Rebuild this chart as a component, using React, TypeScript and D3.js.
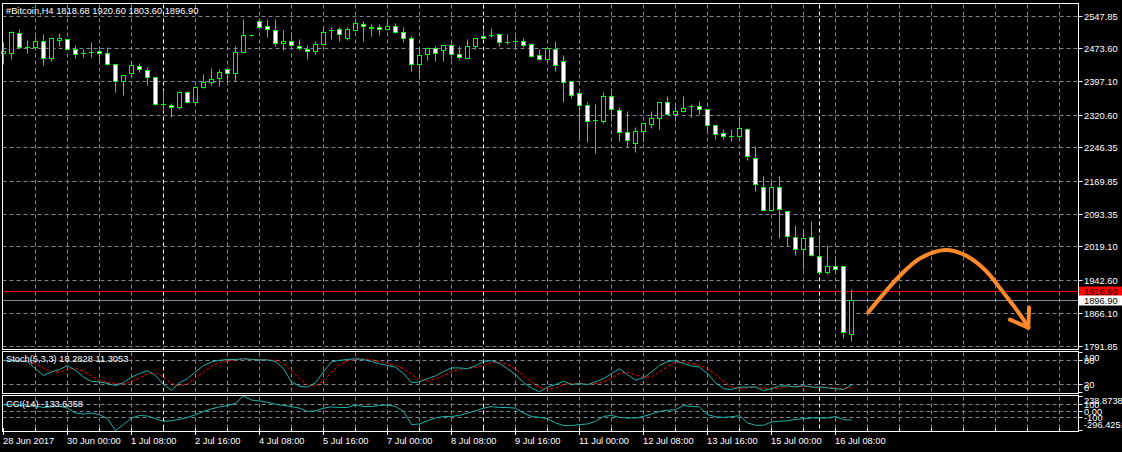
import { useEffect, useRef } from "react";
import * as d3 from "d3";

// H4 candles, bar 0 = 28 Jun 16:00
const opens = [
  2461.6, 2462.3, 2508.1, 2476.5, 2475.3, 2489.8, 2450.1, 2492.1, 2494.4, 2470.7,
  2462.3, 2463.9, 2466.1, 2462.3, 2437.1, 2398.2, 2415.7, 2432.5, 2423.4, 2407.3,
  2344.7, 2343.2, 2337.1, 2373.7, 2350.8, 2383.7, 2395.1, 2404.3, 2424.9, 2415.7,
  2463.9, 2503.6, 2535.6, 2524.9, 2515.0, 2485.2, 2489.1, 2478.4, 2471.5, 2466.1,
  2483.0, 2514.2, 2515.8, 2495.9, 2514.2, 2528.8, 2520.4, 2521.9, 2517.3, 2524.2,
  2510.4, 2496.7, 2437.1, 2460.0, 2473.0, 2468.4, 2480.7, 2460.0, 2450.1, 2477.6,
  2501.3, 2502.8, 2505.9, 2486.9, 2488.5, 2489.8, 2483.7, 2457.7, 2447.1, 2471.5,
  2444.0, 2398.2, 2370.7, 2343.2, 2308.8, 2307.3, 2363.8, 2331.7, 2281.4, 2256.1,
  2282.9, 2299.7, 2312.7, 2350.1, 2322.6, 2329.5, 2340.2, 2340.9, 2334.0, 2297.4,
  2279.1, 2272.2, 2271.4, 2288.2, 2221.8, 2155.4, 2102.7, 2155.4, 2099.6, 2040.8,
  2013.3, 2040.8, 1997.3, 1960.6, 1972.9, 1974.4, 1818.68,
];
const highs = [
  2487.5, 2512.7, 2515.8, 2490.6, 2502.0, 2506.6, 2499.0, 2508.1, 2494.9, 2481.4,
  2471.5, 2486.0, 2476.1, 2476.1, 2437.6, 2411.9, 2443.2, 2439.4, 2430.2, 2407.8,
  2378.3, 2347.8, 2375.3, 2376.0, 2386.0, 2412.7, 2427.9, 2425.7, 2425.7, 2477.6,
  2538.7, 2504.0, 2538.7, 2538.7, 2538.7, 2513.5, 2510.4, 2494.4, 2481.4, 2489.8,
  2523.4, 2521.9, 2521.9, 2521.9, 2538.7, 2534.9, 2528.0, 2528.0, 2538.7, 2531.1,
  2521.9, 2502.0, 2473.0, 2476.1, 2479.1, 2481.2, 2485.2, 2479.1, 2492.9, 2497.2,
  2514.2, 2519.6, 2508.1, 2506.6, 2500.5, 2495.9, 2485.2, 2471.5, 2474.3, 2488.3,
  2458.5, 2398.7, 2374.5, 2350.8, 2344.0, 2372.2, 2372.2, 2337.9, 2330.2, 2292.8,
  2302.4, 2330.2, 2350.6, 2363.8, 2340.2, 2363.8, 2345.5, 2353.1, 2334.5, 2297.9,
  2288.2, 2286.7, 2315.7, 2290.5, 2250.0, 2181.3, 2172.2, 2181.3, 2100.1, 2066.8,
  2057.6, 2076.7, 2043.9, 2021.0, 1996.5, 1974.9, 1920.6,
];
const lows = [
  2439.4, 2450.9, 2475.8, 2463.9, 2470.0, 2437.1, 2445.5, 2481.4, 2471.0, 2453.2,
  2456.2, 2456.2, 2445.5, 2435.6, 2374.5, 2367.6, 2410.4, 2420.3, 2391.3, 2344.2,
  2332.5, 2317.2, 2334.8, 2349.3, 2350.3, 2383.2, 2389.8, 2387.5, 2399.7, 2399.7,
  2463.4, 2503.2, 2521.4, 2500.5, 2479.9, 2471.5, 2479.9, 2471.5, 2450.1, 2462.3,
  2482.2, 2495.2, 2491.4, 2492.9, 2513.7, 2491.4, 2504.3, 2506.6, 2515.8, 2509.7,
  2489.1, 2422.6, 2405.8, 2447.1, 2445.5, 2445.5, 2450.1, 2450.1, 2449.6, 2473.8,
  2495.4, 2501.3, 2481.4, 2485.2, 2479.1, 2479.1, 2454.2, 2447.1, 2446.6, 2421.9,
  2353.1, 2361.5, 2271.4, 2260.0, 2234.8, 2303.5, 2308.1, 2262.3, 2248.5, 2237.1,
  2260.0, 2292.0, 2289.8, 2322.1, 2308.1, 2328.7, 2317.2, 2324.9, 2285.2, 2266.8,
  2266.8, 2262.3, 2267.6, 2219.5, 2149.2, 2102.2, 2102.2, 2040.8, 2023.2, 2001.9,
  1969.0, 1999.1, 1960.1, 1956.8, 1958.4, 1811.7, 1803.6,
];
const closes = [
  2466.1, 2510.4, 2476.1, 2475.8, 2489.8, 2450.9, 2496.7, 2496.7, 2471.5, 2460.0,
  2462.0, 2463.5, 2461.6, 2437.1, 2398.2, 2411.9, 2434.8, 2424.9, 2407.3, 2344.7,
  2344.3, 2338.6, 2373.7, 2350.8, 2384.4, 2394.4, 2402.8, 2418.8, 2416.5, 2464.6,
  2503.6, 2503.6, 2521.9, 2517.3, 2484.5, 2489.8, 2480.7, 2473.0, 2466.9, 2483.7,
  2510.4, 2514.3, 2505.9, 2515.8, 2531.1, 2523.4, 2520.3, 2517.3, 2524.9, 2510.4,
  2495.9, 2437.1, 2457.7, 2473.8, 2462.3, 2480.7, 2460.0, 2453.2, 2479.1, 2496.7,
  2495.9, 2502.8, 2487.5, 2486.7, 2488.3, 2480.7, 2454.7, 2448.6, 2473.8, 2434.0,
  2395.1, 2366.1, 2343.2, 2306.5, 2308.7, 2363.8, 2334.0, 2281.4, 2263.0, 2283.6,
  2301.9, 2313.4, 2350.1, 2322.6, 2330.2, 2336.3, 2340.0, 2334.0, 2297.4, 2276.8,
  2272.2, 2272.0, 2290.5, 2227.1, 2160.7, 2102.7, 2155.4, 2105.0, 2043.1, 2013.3,
  2038.5, 1999.6, 1960.6, 1974.4, 1967.5, 1823.2, 1896.9,
];

const stochMain = [
  80, 80, 78, 76, 59, 42, 51, 57, 67, 55, 38, 27, 26, 22, 17, 24, 38, 47, 54, 42,
  19, 5, 24, 34, 51, 67, 76, 80, 82, 82, 84, 82, 81, 81, 77, 59, 26, 15,
  13, 24, 51, 76, 80, 82, 84, 82, 77, 71, 67, 63, 47, 24, 26, 34, 41, 52, 61, 61,
  59, 66, 77, 79, 72, 59, 44, 24, 11, 1, 13, 19, 28, 19, 22, 19, 26, 34, 47, 59,
  44, 30, 36, 51, 67, 77, 79, 72, 66, 63, 47, 24, 9, 7, 13, 13, 13, 4, 9, 16,
  16, 13, 17, 13, 13, 11, 9, 7, 18.2828,
];
const stochSignal = [
  78, 80, 80, 79, 72, 60, 52, 50, 58, 60, 53, 40, 30, 25, 22, 21, 26, 36, 46, 48,
  38, 22, 16, 21, 36, 51, 65, 74, 79, 81, 83, 83, 82, 81, 80, 72, 54, 34,
  18, 17, 29, 50, 69, 79, 82, 83, 81, 77, 72, 67, 59, 45, 32, 28, 34, 42, 51, 58,
  60, 62, 67, 74, 76, 70, 58, 42, 26, 12, 8, 11, 20, 22, 23, 20, 22, 26, 36, 47,
  50, 44, 37, 39, 51, 65, 74, 76, 72, 67, 59, 45, 27, 13, 10, 11, 13, 10, 9, 10,
  14, 15, 15, 14, 14, 12, 11, 9, 11.3053,
];
const cci = [
  100, 110, 95, 80, 85, 60, 70, 80, 50, -26, -41, -26, -52, -113, -296.4251, -205, -103, -62, -72, -113,
  -154, -144, -123, -93, -52, -1, 40, 70, 91, 126, 238.8738, 177, 162, 142, 111, 91, 75, 50,
  -1, 9, 50, 70, 60, 60, 101, 75, 75, 91, 101, 75, -1, -205, -195, -144, -103, -78, -78, -62,
  -26, 9, 50, 75, 60, 60, 50, -26, -78, -93, -113, -179, -220, -220, -205, -195, -154, -78, -62, -93,
  -103, -103, -78, -41, -1, 19, 24, 91, 75, 70, -52, -83, -93, -83, -67, -179, -215, -215, -164, -154,
  -144, -123, -113, -103, -103, -103, -78, -129, -133.6358,
];

const priceLabels = [2547.85, 2473.6, 2397.1, 2320.6, 2246.35, 2169.85, 2093.35, 2019.1, 1942.6, 1866.1, 1791.85];
const timeLabels = [
  "28 Jun 2017", "30 Jun 00:00", "1 Jul 08:00", "2 Jul 16:00", "4 Jul 08:00", "5 Jul 16:00", "7 Jul 00:00",
  "8 Jul 08:00", "9 Jul 16:00", "11 Jul 00:00", "12 Jul 08:00", "13 Jul 16:00", "15 Jul 00:00", "16 Jul 08:00",
];
const separators = [20, 60, 102];
const bid = 1896.9;
const ask = 1916.9;
const stochLevels = [80, 20];
const stochAxis = [100, 80, 20, 0];
const cciLevels = [100, 0, -100];
const cciMax = 238.8738;
const cciMin = -296.4251;
const title = "#Bitcoin,H4  1818.68 1920.60 1803.60 1896.90";
const stochTitle = "Stoch(5,3,3) 18.2828 11.3053";
const cciTitle = "CCI(14) -133.6358";
// hand-drawn arrow, in [bar, price]
const arrow: [number, number][] = [
  [108.1, 1869], [112.1, 1954], [114.6, 1993], [117.7, 2012], [120.2, 2000],
  [122.7, 1966], [125.2, 1909], [127.1, 1863], [128.1, 1834],
];

export default function App() {
  const ref = useRef<SVGSVGElement | null>(null);

  useEffect(() => {
    if (!ref.current) return;
    const svg = d3.select(ref.current);
    svg.selectAll("*").remove();

    const width = 1122;
    const height = 452;
    const font = "'Liberation Sans', Arial, sans-serif";
    const fs = 9.3;
    const grid = "#778899";
    const lime = "#00ff00";
    const teal = "#20b2aa";
    const left = 2.5;
    const right = 1078.5;
    const panes = { main: [3.5, 349.5], stoch: [351.5, 393.5], cci: [395.5, 431.5] };
    const crisp = (v: number) => Math.round(v - 0.5) + 0.5;

    const x = d3.scaleLinear().domain([0, 1]).range([3.5, 11.5]);
    const y = d3.scaleLinear().domain([1791.85, 2547.85]).range([346, 16]);
    const ys = d3.scaleLinear().domain([0, 100]).range([392.3, 352.3]);
    const yc = d3.scaleLinear().domain([cciMin, cciMax]).range([430.5, 396]);

    svg.append("rect").attr("width", width).attr("height", height).attr("fill", "#000");

    const g = svg.append("g");
    const text = (tx: number, ty: number, s: string, fill = "#fff") =>
      g.append("text").attr("x", tx).attr("y", ty).attr("fill", fill)
        .attr("font-family", font).attr("font-size", fs).text(s);

    // MARK: vertical grid + separators
    const lastGrid = 132;
    Object.values(panes).forEach(([t, b]) => {
      for (let i = 4; i <= lastGrid; i += 4) {
        if (separators.includes(i)) continue;
        g.append("line").attr("x1", x(i)).attr("x2", x(i)).attr("y1", t + 1).attr("y2", b - 1)
          .attr("stroke", grid).attr("stroke-dasharray", "4,3");
      }
      separators.forEach((s) => {
        g.append("line").attr("x1", x(s)).attr("x2", x(s)).attr("y1", t + 1).attr("y2", b - 1)
          .attr("stroke", "#fff").attr("stroke-dasharray", "4,3");
      });
    });

    // MARK: horizontal grid
    priceLabels.forEach((p) => {
      g.append("line").attr("x1", left).attr("x2", right).attr("y1", crisp(y(p))).attr("y2", crisp(y(p)))
        .attr("stroke", grid).attr("stroke-dasharray", "4,3");
    });
    stochLevels.forEach((v) => {
      g.append("line").attr("x1", left).attr("x2", right).attr("y1", crisp(ys(v))).attr("y2", crisp(ys(v)))
        .attr("stroke", grid).attr("stroke-dasharray", "4,3");
    });
    cciLevels.forEach((v) => {
      g.append("line").attr("x1", left).attr("x2", right).attr("y1", crisp(yc(v))).attr("y2", crisp(yc(v)))
        .attr("stroke", grid).attr("stroke-dasharray", "4,3");
    });

    // MARK: bid / ask lines
    g.append("line").attr("x1", left).attr("x2", right).attr("y1", crisp(y(ask))).attr("y2", crisp(y(ask)))
      .attr("stroke", "#ff0000");
    g.append("line").attr("x1", left).attr("x2", right).attr("y1", crisp(y(bid))).attr("y2", crisp(y(bid)))
      .attr("stroke", grid);

    // MARK: candles
    closes.forEach((c, i) => {
      const o = opens[i];
      const cx = x(i);
      g.append("line").attr("x1", cx).attr("x2", cx)
        .attr("y1", crisp(y(highs[i]))).attr("y2", crisp(y(lows[i])) + 1)
        .attr("stroke", lime);
      const top = crisp(y(Math.max(o, c)));
      const bot = crisp(y(Math.min(o, c)));
      if (bot - top < 1) {
        g.append("line").attr("x1", cx - 2.5).attr("x2", cx + 2.5).attr("y1", top).attr("y2", top)
          .attr("stroke", lime);
      } else {
        g.append("rect").attr("x", cx - 2).attr("y", top).attr("width", 4).attr("height", bot - top)
          .attr("fill", c < o ? "#fff" : "#000").attr("stroke", lime);
      }
    });

    // MARK: stochastic
    const lineS = d3.line<number>().x((_, i) => x(i)).y((d) => ys(d));
    g.append("path").attr("d", lineS(stochSignal) || "").attr("fill", "none")
      .attr("stroke", "#ff0000").attr("stroke-dasharray", "3,2");
    g.append("path").attr("d", lineS(stochMain) || "").attr("fill", "none").attr("stroke", teal);

    // MARK: CCI
    const lineC = d3.line<number>().x((_, i) => x(i)).y((d) => yc(d));
    g.append("path").attr("d", lineC(cci) || "").attr("fill", "none").attr("stroke", teal);

    // MARK: frames
    Object.values(panes).forEach(([t, b]) => {
      g.append("rect").attr("x", left).attr("y", t).attr("width", right - left).attr("height", b - t)
        .attr("fill", "none").attr("stroke", "#fff");
    });

    // MARK: price axis
    priceLabels.forEach((p) => {
      const py = crisp(y(p));
      g.append("line").attr("x1", right).attr("x2", right + 4).attr("y1", py).attr("y2", py).attr("stroke", "#fff");
      text(1084, py + 3.4, p.toFixed(2));
    });
    const askY = crisp(y(ask));
    const bidY = crisp(y(bid));
    g.append("rect").attr("x", 1079).attr("y", askY - 5).attr("width", 43).attr("height", 10).attr("fill", "#ff0000");
    text(1084, askY + 3.4, ask.toFixed(2), "#000");
    g.append("rect").attr("x", 1079).attr("y", bidY - 5).attr("width", 43).attr("height", 10).attr("fill", "#fff");
    text(1084, bidY + 3.4, bid.toFixed(2), "#000");

    stochAxis.forEach((v) => {
      const py = Math.max(panes.stoch[0] + 6, Math.min(panes.stoch[1] - 6, ys(v)));
      g.append("line").attr("x1", right).attr("x2", right + 4).attr("y1", crisp(ys(v))).attr("y2", crisp(ys(v))).attr("stroke", "#fff");
      text(1084, py + 3.4, String(v));
    });
    [cciMax, 100, 0, -100, cciMin].forEach((v) => {
      const py = Math.max(panes.cci[0] + 5, Math.min(panes.cci[1] - 7, yc(v)));
      g.append("line").attr("x1", right).attr("x2", right + 4).attr("y1", crisp(yc(v))).attr("y2", crisp(yc(v))).attr("stroke", "#fff");
      const s = v === cciMax || v === cciMin ? v.toFixed(4) : v === 0 ? "0.00" : String(v);
      text(1084, py + 3.4, s);
    });

    // MARK: time axis
    for (let i = 0; i <= lastGrid; i += 4) {
      const major = i % 8 === 0 && i / 8 < timeLabels.length;
      g.append("line").attr("x1", x(i)).attr("x2", x(i)).attr("y1", 428).attr("y2", major ? 435 : 431)
        .attr("stroke", "#fff");
    }
    timeLabels.forEach((s, k) => text(x(k * 8) - 0.5, 444, s));

    // MARK: titles
    text(6, 14, title);
    text(6, 362, stochTitle);
    text(6, 407, cciTitle);

    // MARK: arrow
    const ax = (d: [number, number]) => x(d[0]);
    const ay = (d: [number, number]) => y(d[1]);
    const arrowLine = d3.line<[number, number]>().x(ax).y(ay).curve(d3.curveCatmullRom);
    const orange = "#ff8a2b";
    g.append("path").attr("d", arrowLine(arrow) || "").attr("fill", "none").attr("stroke", orange)
      .attr("stroke-width", 4).attr("stroke-linecap", "round");
    const tip = arrow[arrow.length - 1];
    const prev = arrow[arrow.length - 2];
    const tx = ax(tip), ty = ay(tip);
    const ang = Math.atan2(ay(prev) - ty, ax(prev) - tx);
    [-0.6, 0.6].forEach((da) => {
      g.append("line").attr("x1", tx).attr("y1", ty)
        .attr("x2", tx + 20 * Math.cos(ang + da)).attr("y2", ty + 20 * Math.sin(ang + da))
        .attr("stroke", orange).attr("stroke-width", 4).attr("stroke-linecap", "round");
    });
  }, []);

  return (
    <svg ref={ref} width={1122} height={452} style={{ position: "absolute", left: 0, top: 0, display: "block" }} />
  );
}
